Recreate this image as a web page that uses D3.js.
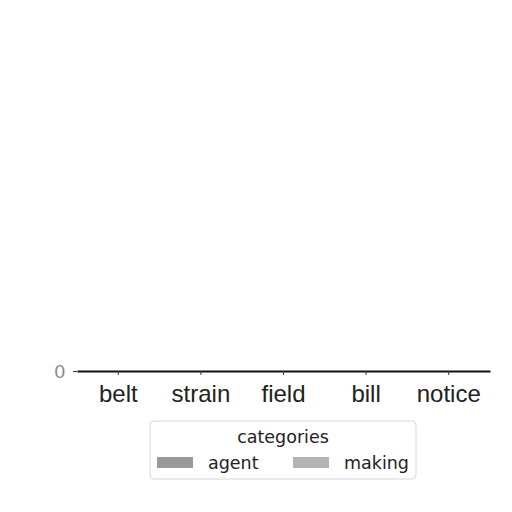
<!DOCTYPE html>
<html>
<head>
<meta charset="utf-8">
<script src="https://cdn.jsdelivr.net/npm/d3@7"></script>
<style>
  body { margin: 0; background: #fff; }
  svg { font-family: "DejaVu Sans", sans-serif; }
</style>
</head>
<body>
<svg id="chart"></svg>
<script>
// chart data
const categories = ["belt", "strain", "field", "bill", "notice"];
const seriesNames = ["agent", "making"];
const agentValues = [0, 0, 0, 0, 0];
const makingValues = [0, 0, 0, 0, 0];
const yTicks = [0];

const width = 512, height = 512;
const margin = {top: 10, right: 22, bottom: 140, left: 77};
const colors = {agent: "#999999", making: "#b3b3b3"};

const svg = d3.select("#chart").attr("width", width).attr("height", height);

const x = d3.scaleBand()
    .domain(categories)
    .range([margin.left, width - margin.right])
    .paddingInner(0.2)
    .paddingOuter(0.1);

const xSub = d3.scaleBand()
    .domain(seriesNames)
    .range([0, x.bandwidth()]);

// all values are zero, so the axis sits at the bottom
const y = d3.scaleLinear()
    .domain([0, 1])
    .range([height - margin.bottom - 1, margin.top]);

const rows = categories.map((c, i) => ({cat: c, agent: agentValues[i], making: makingValues[i]}));

svg.append("g").selectAll("g")
    .data(rows)
    .enter().append("g")
    .attr("transform", d => `translate(${x(d.cat)},0)`)
    .selectAll("rect")
    .data(d => seriesNames.map(s => ({s, v: d[s]})))
    .enter().append("rect")
    .attr("x", d => xSub(d.s))
    .attr("width", xSub.bandwidth())
    .attr("y", d => y(d.v))
    .attr("height", d => y(0) - y(d.v))
    .attr("fill", d => colors[d.s]);

// y axis: only the 0 tick, no spine
const yAxis = svg.append("g")
    .attr("transform", `translate(${margin.left},0)`)
    .call(d3.axisLeft(y).tickValues(yTicks).tickFormat(d3.format("d")).tickSize(4).tickPadding(8));
yAxis.select(".domain").remove();
yAxis.selectAll("text").attr("fill", "#888").style("font-size", "19px");
yAxis.selectAll("line").attr("stroke", "#333");

// x axis
const xAxis = svg.append("g")
    .attr("transform", `translate(0,${y(0)})`)
    .call(d3.axisBottom(x).tickSize(4).tickSizeOuter(0).tickPadding(10));
xAxis.select(".domain").attr("stroke", "#111").attr("stroke-width", 2);
xAxis.selectAll("line").attr("stroke", "#333");
xAxis.selectAll("text").attr("fill", "#222").style("font-size", "24px");

// legend
const lg = svg.append("g").attr("transform", "translate(150,421)");
lg.append("rect")
    .attr("width", 266).attr("height", 58)
    .attr("rx", 4)
    .attr("fill", "#fff")
    .attr("stroke", "#d6d6d6");
lg.append("text")
    .attr("x", 133).attr("y", 22)
    .attr("text-anchor", "middle")
    .attr("fill", "#222")
    .style("font-size", "17.5px")
    .text("categories");
const items = lg.selectAll("g.item")
    .data(seriesNames)
    .enter().append("g")
    .attr("class", "item")
    .attr("transform", (d, i) => `translate(${7 + i * 136},36)`);
items.append("rect")
    .attr("width", 36).attr("height", 11)
    .attr("fill", d => colors[d]);
items.append("text")
    .attr("x", 51).attr("y", 12)
    .attr("fill", "#222")
    .style("font-size", "17.5px")
    .text(d => d);
</script>
</body>
</html>
